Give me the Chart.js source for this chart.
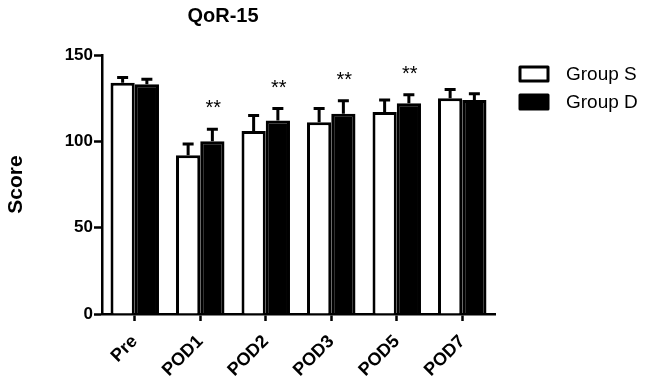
<!DOCTYPE html>
<html>
<head>
<meta charset="utf-8">
<script src="https://cdn.jsdelivr.net/npm/chart.js@4.4.1/dist/chart.umd.min.js"></script>
<style>
  html, body { margin: 0; padding: 0; background: #ffffff; }
  #wrap { width: 650px; height: 387px; position: relative; }
</style>
</head>
<body>
<div id="wrap"><canvas id="c" width="650" height="387"></canvas></div>
<script>
const categories = ['Pre', 'POD1', 'POD2', 'POD3', 'POD5', 'POD7'];
const groupSValues = [134, 92, 106, 111, 117, 125];
const groupSErrors = [3, 6.5, 9, 8, 7, 5];
const groupDValues = [133, 100, 112, 116, 122, 124];
const groupDErrors = [3, 7, 7, 7.5, 5, 3.5];
const significance = ['', '**', '**', '**', '**', ''];
const seriesNames = ['Group S', 'Group D'];
const yTicks = [0, 50, 100, 150];

const FONT = "'Liberation Sans', Arial, sans-serif";

const errorBarPlugin = {
  id: 'errorBars',
  afterDatasetsDraw(chart) {
    const ctx = chart.ctx;
    const y = chart.scales.y;
    const errs = [groupSErrors, groupDErrors];
    chart.data.datasets.forEach((ds, di) => {
      const meta = chart.getDatasetMeta(di);
      meta.data.forEach((bar, i) => {
        const v = ds.data[i];
        const top = y.getPixelForValue(v + errs[di][i]);
        const base = y.getPixelForValue(v);
        ctx.save();
        ctx.strokeStyle = '#000';
        ctx.lineWidth = 3;
        ctx.beginPath();
        ctx.moveTo(bar.x, base);
        ctx.lineTo(bar.x, top);
        ctx.moveTo(bar.x - 5.5, top);
        ctx.lineTo(bar.x + 5.5, top);
        ctx.stroke();
        ctx.restore();
      });
    });
    // significance stars above Group D
    const metaD = chart.getDatasetMeta(1);
    ctx.save();
    ctx.fillStyle = '#000';
    ctx.font = '20px ' + FONT;
    ctx.textAlign = 'center';
    ctx.textBaseline = 'alphabetic';
    significance.forEach((s, i) => {
      if (!s) return;
      const bar = metaD.data[i];
      const top = y.getPixelForValue(groupDValues[i] + groupDErrors[i]);
      ctx.fillText(s, bar.x + 1, top - 15);
    });
    ctx.restore();
  }
};

const titleLegendPlugin = {
  id: 'titleLegend',
  afterDraw(chart) {
    const ctx = chart.ctx;
    ctx.save();
    ctx.fillStyle = '#000';
    ctx.font = 'bold 20px ' + FONT;
    ctx.textAlign = 'center';
    ctx.textBaseline = 'alphabetic';
    ctx.fillText('QoR-15', 223, 22);
    // legend
    const boxX = 520, boxW = 28, boxH = 14;
    const rows = [74, 102];
    chart.data.datasets.forEach((ds, di) => {
      const cy = rows[di];
      ctx.lineWidth = 3;
      ctx.lineJoin = 'round';
      ctx.strokeStyle = '#000';
      ctx.fillStyle = ds.backgroundColor;
      ctx.fillRect(boxX, cy - boxH / 2, boxW, boxH);
      ctx.strokeRect(boxX, cy - boxH / 2, boxW, boxH);
      ctx.fillStyle = '#000';
      ctx.font = '19px ' + FONT;
      ctx.textAlign = 'left';
      ctx.textBaseline = 'middle';
      ctx.fillText(ds.label, 566, cy + 1);
    });
    ctx.restore();
  }
};

new Chart(document.getElementById('c'), {
  type: 'bar',
  data: {
    labels: categories,
    datasets: [
      {
        label: seriesNames[0],
        data: groupSValues,
        backgroundColor: '#ffffff',
        borderColor: '#000000',
        borderWidth: 3,
        borderSkipped: 'start'
      },
      {
        label: seriesNames[1],
        data: groupDValues,
        backgroundColor: '#000000',
        borderColor: '#000000',
        borderWidth: 3,
        borderSkipped: 'start'
      }
    ]
  },
  options: {
    responsive: false,
    animation: false,
    devicePixelRatio: 1,
    categoryPercentage: 0.74,
    barPercentage: 1.0,
    layout: { padding: { top: 55, right: 155, left: 0, bottom: 0 } },
    plugins: {
      legend: { display: false },
      title: { display: false },
      tooltip: { enabled: false }
    },
    scales: {
      x: {
        grid: {
          display: true,
          offset: false,
          drawOnChartArea: false,
          drawTicks: true,
          tickLength: 7,
          tickWidth: 2.5,
          tickColor: '#000'
        },
        border: { display: true, color: '#000', width: 2.5 },
        ticks: {
          color: '#000',
          font: { family: FONT, size: 18, weight: 'bold' },
          minRotation: 45,
          maxRotation: 45,
          padding: 10
        },
        afterFit(scale) { scale.height = 73; }
      },
      y: {
        min: 0,
        max: 150,
        afterBuildTicks(scale) { scale.ticks = yTicks.map(v => ({ value: v })); },
        grid: {
          display: true,
          drawOnChartArea: false,
          drawTicks: true,
          tickLength: 8,
          tickWidth: 2.5,
          tickColor: '#000'
        },
        border: { display: true, color: '#000', width: 2.5 },
        ticks: {
          color: '#000',
          font: { family: FONT, size: 17, weight: 'bold' },
          padding: 1
        },
        title: {
          display: true,
          text: 'Score',
          color: '#000',
          font: { family: FONT, size: 21, weight: 'bold' },
          padding: { top: 4, bottom: 0 }
        },
        afterFit(scale) { scale.width = 102; }
      }
    }
  },
  plugins: [errorBarPlugin, titleLegendPlugin]
});
</script>
</body>
</html>
